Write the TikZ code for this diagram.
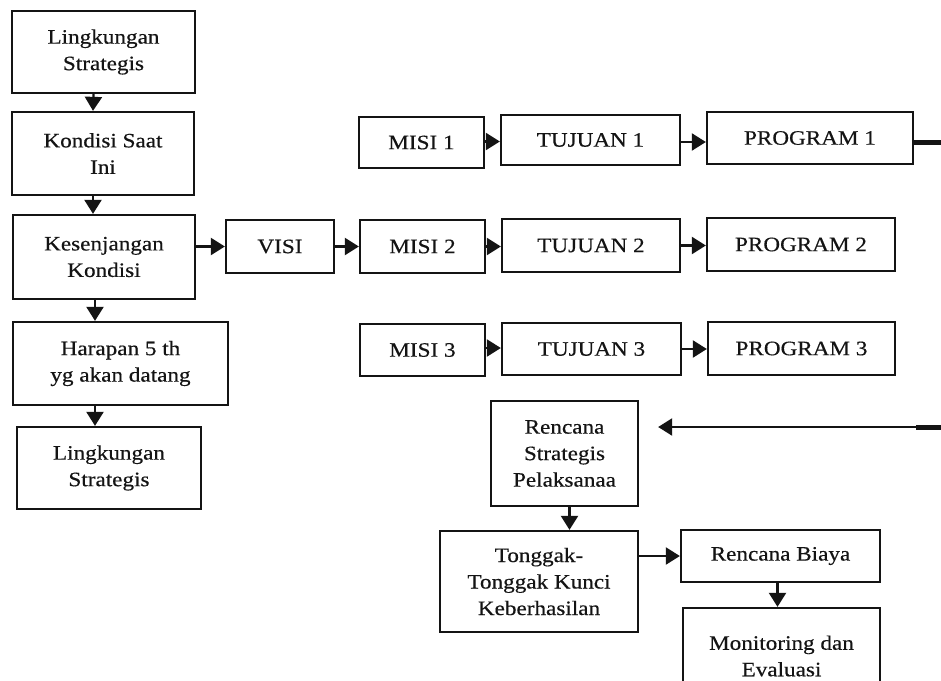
\documentclass[tikz,border=0pt]{standalone}
\usepackage{fontspec}
\setmainfont{Liberation Serif}[FakeStretch=1.13,FakeBold=0.4]
\usetikzlibrary{arrows.meta}
\begin{document}
\begin{tikzpicture}[x=1pt,y=-1pt,
  box/.style={draw=black!92, line width=2.3pt, inner sep=0pt, align=center,
    font=\fontsize{20.5}{26.5}\selectfont, text=black!92},
  arr/.style={draw=black!92, line width=2.2pt, -{Triangle[length=14pt,width=17pt]}},
  thickline/.style={draw=black!92, line width=5pt}]
\useasboundingbox (0,0) rectangle (941,680);
\fill[white] (0,0) rectangle (941,680);
% left column
\node[box, minimum width=183, minimum height=82] (ls1) at (103.5,52) {Lingkungan\\Strategis};
\node[box, minimum width=182, minimum height=83] (kon) at (103,153.5) {Kondisi Saat\\Ini};
\node[box, minimum width=182, minimum height=84] (kes) at (104,257) {Kesenjangan\\Kondisi};
\node[box, minimum width=215, minimum height=83] (har) at (120.5,363.5) {Harapan 5 th\\yg akan datang};
\node[box, minimum width=184, minimum height=82] (ls2) at (109,468) {Lingkungan\\Strategis};
% visi
\node[box, minimum width=108, minimum height=53] (visi) at (280,246.5) {VISI};
% misi
\node[box, minimum width=125, minimum height=51] (m1) at (421.5,142.5) {MISI 1};
\node[box, minimum width=125, minimum height=53] (m2) at (422.5,246.5) {MISI 2};
\node[box, minimum width=125, minimum height=52] (m3) at (422.5,350) {MISI 3};
% tujuan
\node[box, minimum width=179, minimum height=50] (t1) at (590.5,140) {TUJUAN 1};
\node[box, minimum width=178, minimum height=53] (t2) at (591,245.5) {TUJUAN 2};
\node[box, minimum width=179, minimum height=52] (t3) at (591.5,349) {TUJUAN 3};
% program
\node[box, minimum width=206, minimum height=52] (p1) at (810,138) {PROGRAM 1};
\node[box, minimum width=188, minimum height=53] (p2) at (801,244.5) {PROGRAM 2};
\node[box, minimum width=187, minimum height=53] (p3) at (801.5,348.5) {PROGRAM 3};
% lower part
\node[box, minimum width=147, minimum height=105] (rsp) at (564.5,453.5) {Rencana\\Strategis\\Pelaksanaa};
\node[box, minimum width=198, minimum height=101] (ton) at (539,581.5) {Tonggak-\\Tonggak Kunci\\Keberhasilan};
\node[box, minimum width=199, minimum height=52] (rb) at (780.5,556) {Rencana Biaya};
\node[box, minimum width=197, minimum height=96] (mon) at (781.5,656) {Monitoring dan\\Evaluasi};
% edge coordinates
\coordinate (r1) at (941,142);
\coordinate (r2) at (941,427);
\coordinate (r2b) at (916,427);
% left column arrows
\draw[arr] ([xshift=-10pt]ls1.south) -- ([xshift=-10pt]kon.north);
\draw[arr] ([xshift=-10pt]kon.south) -- ([xshift=-10pt]kon.south |- kes.north);
\draw[arr] ([xshift=-9pt]kes.south) -- ([xshift=-9pt]kes.south |- har.north);
\draw[arr] ([xshift=-9pt]kes.south |- har.south) -- ([xshift=-9pt]kes.south |- ls2.north);
% horizontal arrows
\draw[arr] (visi.west -| kes.east) -- (visi.west);
\draw[arr] (visi.east) -- (visi.east -| m2.west);
\draw[arr] ([yshift=1pt]m1.east) -- ([yshift=1pt]m1.east -| t1.west);
\draw[arr] (m2.east) -- (m2.east -| t2.west);
\draw[arr] ([yshift=2pt]m3.east) -- ([yshift=2pt]m3.east -| t3.west);
\draw[arr] ([yshift=-2pt]t1.east) -- ([yshift=-2pt]t1.east -| p1.west);
\draw[arr] (t2.east) -- (t2.east -| p2.west);
\draw[arr] (t3.east) -- (t3.east -| p3.west);
% right edge connectors
\draw[thickline] (p1.east |- r1) -- (r1);
\draw[arr, shorten >=19pt] (r2) -- (r2 -| rsp.east);
\draw[thickline] (r2b) -- (r2);
% lower arrows
\draw[arr] ([xshift=5pt]rsp.south) -- ([xshift=5pt]rsp.south |- ton.north);
\draw[arr] (rb.west -| ton.east) -- (rb.west);
\draw[arr] ([xshift=-3pt]rb.south) -- ([xshift=-3pt]rb.south |- mon.north);
\end{tikzpicture}
\end{document}
